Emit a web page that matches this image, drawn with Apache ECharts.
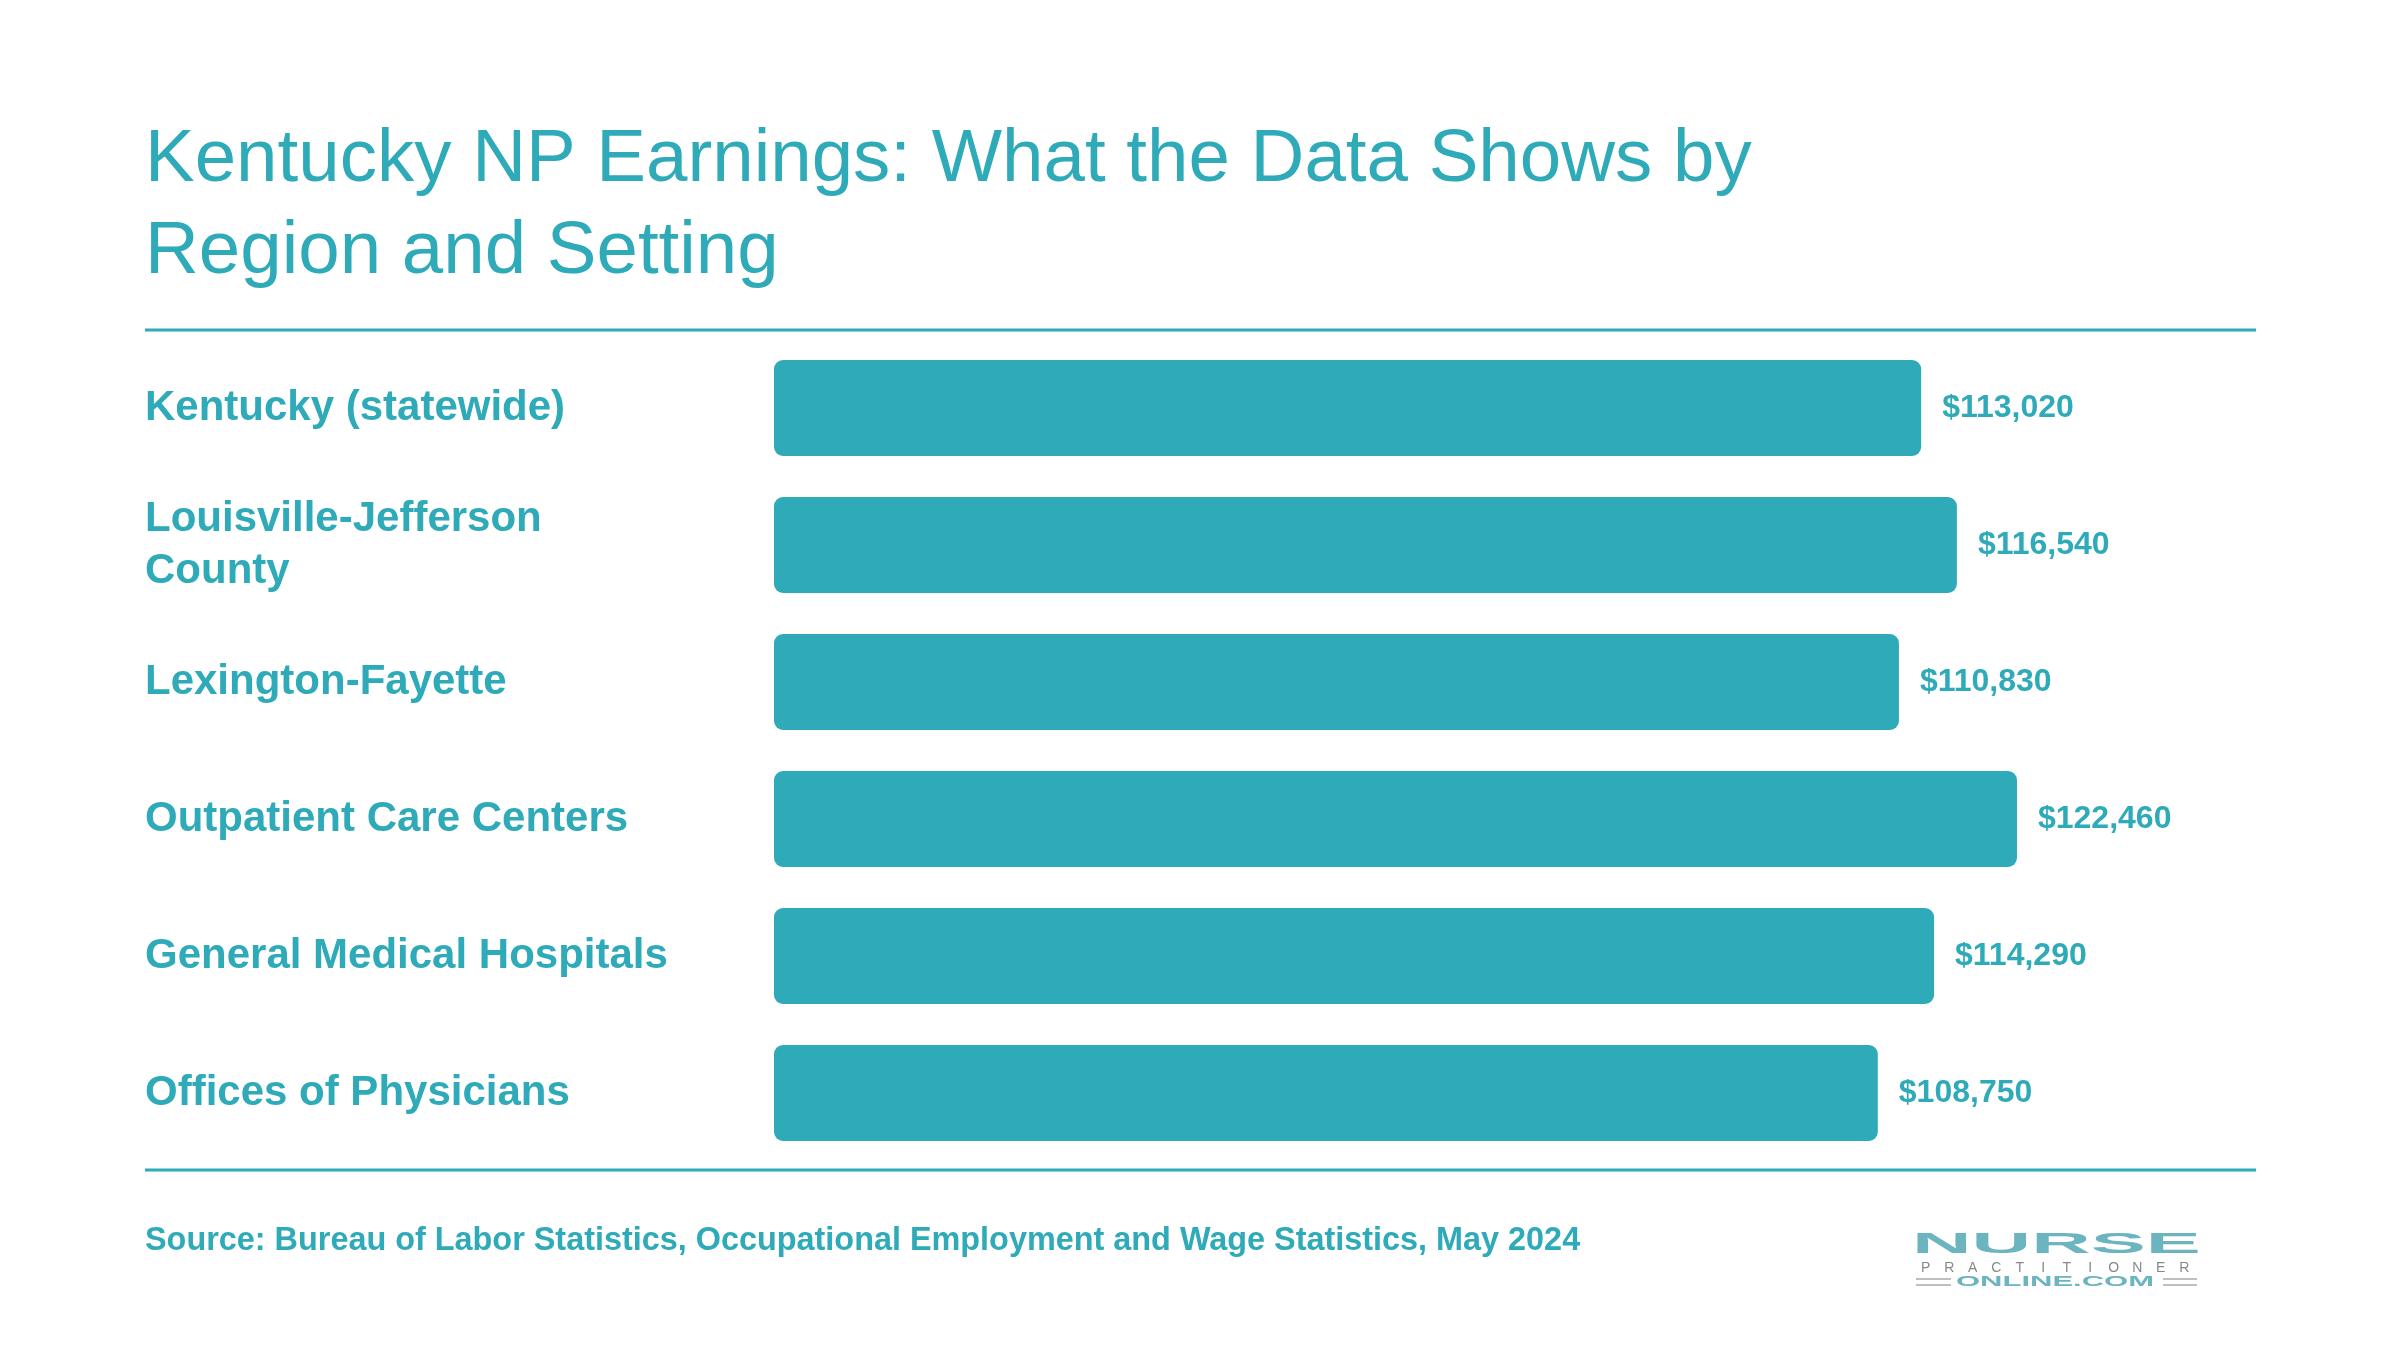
<!DOCTYPE html>
<html>
<head>
<meta charset="utf-8">
<script src="https://cdn.jsdelivr.net/npm/echarts@6/dist/echarts.min.js"></script>
<style>
  html, body { margin: 0; padding: 0; background: #ffffff; }
  #chart { width: 2400px; height: 1350px; }
</style>
</head>
<body>
<div id="chart"></div>
<script>
const titleText = 'Kentucky NP Earnings: What the Data Shows by\nRegion and Setting';
const categories = [
  'Kentucky (statewide)',
  'Louisville-Jefferson County',
  'Lexington-Fayette',
  'Outpatient Care Centers',
  'General Medical Hospitals',
  'Offices of Physicians'
];
const salaries = [113020, 116540, 110830, 122460, 114290, 108750];
const sourceText = 'Source: Bureau of Labor Statistics, Occupational Employment and Wage Statistics, May 2024';

const TEAL = '#2eaab8';
const FONT = "'Liberation Sans', Arial, Helvetica, sans-serif";

const chart = echarts.init(document.getElementById('chart'), null, { renderer: 'canvas' });

// Logo pieces (decoration)
const logoPract = 'PRACTITIONER'.split('');
const practStart = 1914, practEnd = 2196;
const pitch = (practEnd - practStart) / logoPract.length;
const practTexts = logoPract.map((ch, i) => ({
  type: 'text',
  style: {
    text: ch,
    x: practStart + (i + 0.5) * pitch,
    y: 1268,
    fill: '#888888',
    font: 'normal 14px ' + FONT,
    align: 'center',
    verticalAlign: 'middle'
  }
}));

const option = {
  backgroundColor: '#ffffff',
  animation: false,
  title: {
    text: titleText,
    left: 145,
    top: 114,
    padding: 0,
    textStyle: {
      fontFamily: FONT,
      fontSize: 74.5,
      fontWeight: 'normal',
      color: TEAL,
      lineHeight: 92
    }
  },
  grid: {
    left: 774,
    right: 205,
    top: 339.5,
    bottom: 188.5,
    containLabel: false
  },
  xAxis: {
    type: 'value',
    min: 0,
    max: 140000,
    show: false,
    splitLine: { show: false }
  },
  yAxis: {
    type: 'category',
    data: categories,
    inverse: true,
    axisLine: { show: false },
    axisTick: { show: false },
    splitLine: { show: false },
    axisLabel: {
      align: 'left',
      margin: 629,
      width: 540,
      overflow: 'break',
      fontFamily: FONT,
      fontSize: 42,
      fontWeight: 'bold',
      color: TEAL,
      lineHeight: 52,
      padding: [3, 0, 0, 0]
    }
  },
  series: [{
    type: 'bar',
    data: salaries,
    barWidth: 96,
    itemStyle: {
      color: TEAL,
      borderRadius: 9
    },
    label: {
      show: true,
      position: 'right',
      distance: 21,
      fontFamily: FONT,
      fontSize: 32,
      fontWeight: 'bold',
      color: TEAL,
      padding: [2, 0, 0, 0],
      formatter: p => '$' + p.value.toLocaleString('en-US')
    }
  }],
  graphic: [
    {
      type: 'line',
      shape: { x1: 145, y1: 330, x2: 2256, y2: 330 },
      style: { stroke: TEAL, lineWidth: 3 }
    },
    {
      type: 'line',
      shape: { x1: 145, y1: 1170, x2: 2256, y2: 1170 },
      style: { stroke: TEAL, lineWidth: 3 }
    },
    {
      type: 'text',
      style: {
        text: sourceText,
        x: 145,
        y: 1241,
        fill: TEAL,
        font: 'bold 32.4px ' + FONT,
        verticalAlign: 'middle'
      }
    },
    // Logo
    {
      type: 'text',
      x: 1912,
      y: 1245,
      scaleX: 2.75,
      style: {
        text: 'NURSE',
        x: 0,
        y: 0,
        fill: '#6bb4c0',
        font: 'bold 30px ' + FONT,
        align: 'left',
        verticalAlign: 'middle'
      }
    },
    ...practTexts,
    {
      type: 'text',
      x: 1956,
      y: 1282,
      scaleX: 2.0,
      style: {
        text: 'ONLINE.COM',
        x: 0,
        y: 0,
        fill: '#6bb4c0',
        font: 'bold 15.5px ' + FONT,
        align: 'left',
        verticalAlign: 'middle'
      }
    },
    { type: 'line', shape: { x1: 1916, y1: 1279, x2: 1951, y2: 1279 }, style: { stroke: '#aaaaaa', lineWidth: 1.5 } },
    { type: 'line', shape: { x1: 1916, y1: 1285, x2: 1951, y2: 1285 }, style: { stroke: '#aaaaaa', lineWidth: 1.5 } },
    { type: 'line', shape: { x1: 2163, y1: 1279, x2: 2197, y2: 1279 }, style: { stroke: '#aaaaaa', lineWidth: 1.5 } },
    { type: 'line', shape: { x1: 2163, y1: 1285, x2: 2197, y2: 1285 }, style: { stroke: '#aaaaaa', lineWidth: 1.5 } }
  ]
};

chart.setOption(option);
</script>
</body>
</html>
